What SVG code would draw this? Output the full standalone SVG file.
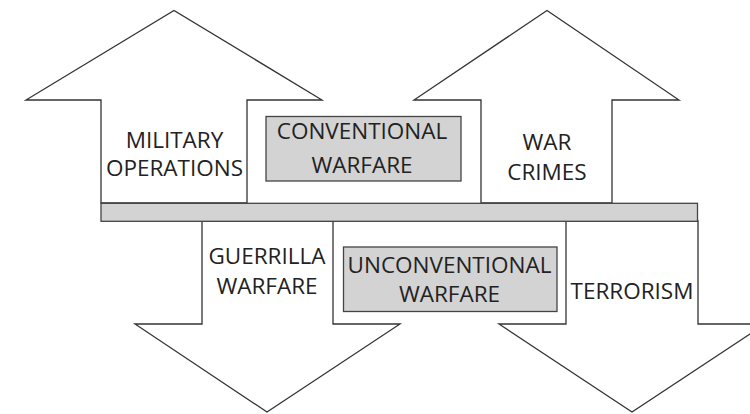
<svg xmlns="http://www.w3.org/2000/svg" width="750" height="414" viewBox="0 0 750 414">
<style>
.arrow{fill:#fff;stroke:#333;stroke-width:1.3;stroke-linejoin:miter}
.box{fill:#d3d3d3;stroke:#444;stroke-width:1.3}
.t{font-family:"Open Sans","Noto Sans",sans-serif;font-size:22.5px;fill:#222;text-anchor:middle}
</style>
<rect width="750" height="414" fill="#fff"/>
<g id="connectors">
<polygon class="arrow" points="101,203 101,100 26,100 174,10.5 322,100 247,100 247,203"/>
<polygon class="arrow" points="481,203 481,100 414,100 547,10.5 679,100 612,100 612,203"/>
<polygon class="arrow" points="202,221 202,324 135,324 267,412 400,324 333,324 333,221"/>
<polygon class="arrow" points="566,221 566,324 499,324 632,412 765,324 698,324 698,221"/>
</g>
<g id="bar"><rect class="box" x="101" y="203.3" width="596.5" height="18"/></g>
<g id="military"><text class="t" x="174.5" y="147.5">MILITARY</text><text class="t" x="174.5" y="176">OPERATIONS</text></g>
<g id="conventional"><rect class="box" x="266" y="116.5" width="195" height="64.5"/><text class="t" x="362" y="138.5">CONVENTIONAL</text><text class="t" x="362" y="172.5">WARFARE</text></g>
<g id="warcrimes"><text class="t" x="547" y="150">WAR</text><text class="t" x="547" y="180">CRIMES</text></g>
<g id="guerrilla"><text class="t" x="267" y="263.5">GUERRILLA</text><text class="t" x="267" y="293.5">WARFARE</text></g>
<g id="unconventional"><rect class="box" x="343.5" y="247" width="213.5" height="64.5"/><text class="t" x="449.5" y="272.5">UNCONVENTIONAL</text><text class="t" x="449.5" y="301.5">WARFARE</text></g>
<g id="terrorism"><text class="t" x="632" y="299">TERRORISM</text></g>
</svg>
